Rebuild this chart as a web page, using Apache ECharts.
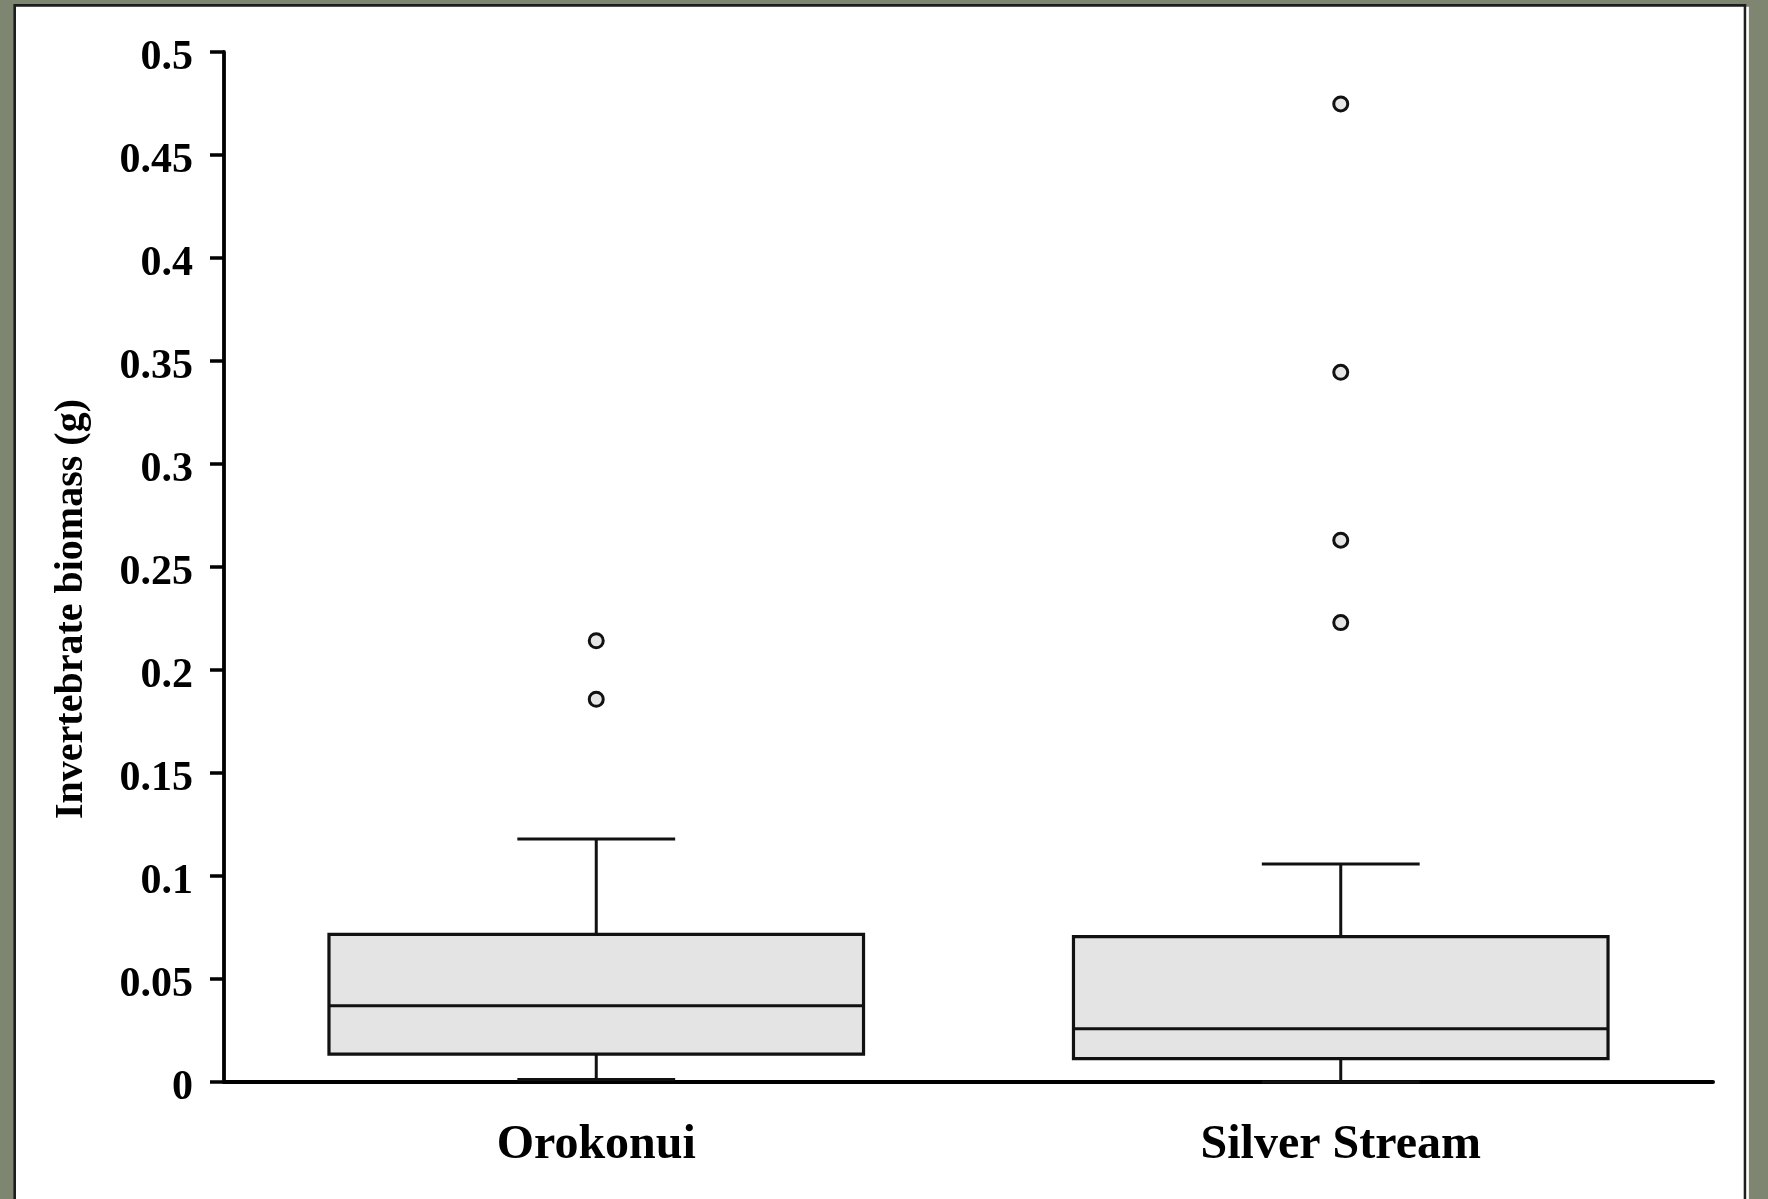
<!DOCTYPE html>
<html>
<head>
<meta charset="utf-8">
<title>Invertebrate biomass</title>
<script src="https://cdn.jsdelivr.net/npm/echarts@6/dist/echarts.min.js"></script>
<style>
  html, body { margin: 0; padding: 0; background: #7e8570; }
  #chart { width: 1768px; height: 1199px; }
</style>
</head>
<body>
<div id="chart"></div>
<script>
// Sites on the category axis
const sites = ['Orokonui', 'Silver Stream'];
// Box-and-whisker summary per site (g)
const whiskerLow = [0.0012, 0];
const quartile1 = [0.0135, 0.0113];
const median = [0.0370, 0.0258];
const quartile3 = [0.0717, 0.0706];
const whiskerHigh = [0.1180, 0.1058];
// Outlying samples per site (g)
const outliersOrokonui = [0.2142, 0.1858];
const outliersSilverStream = [0.4748, 0.3445, 0.2630, 0.2230];
// Value axis ticks
const yMin = 0;
const yMax = 0.5;
const yStep = 0.05;

const serif = '"Liberation Serif", "Times New Roman", serif';

const boxData = sites.map((s, i) => [i, whiskerLow[i], quartile1[i], median[i], quartile3[i], whiskerHigh[i]]);
const outlierData = [
  ...outliersOrokonui.map(v => [0, v]),
  ...outliersSilverStream.map(v => [1, v])
];

function renderBox(params, api) {
  const i = api.value(0);
  const band = api.size([1, 0])[0];
  const cx = api.coord([i, 0])[0];
  const boxW = band * 0.718;
  const capW = band * 0.212;
  const yLo = api.coord([i, api.value(1)])[1];
  const yQ1 = api.coord([i, api.value(2)])[1];
  const yMed = api.coord([i, api.value(3)])[1];
  const yQ3 = api.coord([i, api.value(4)])[1];
  const yHi = api.coord([i, api.value(5)])[1];
  const line = { stroke: '#111', lineWidth: 3, fill: null };
  return {
    type: 'group',
    children: [
      { type: 'line', shape: { x1: cx, y1: yHi, x2: cx, y2: yQ3 }, style: line },
      { type: 'line', shape: { x1: cx, y1: yQ1, x2: cx, y2: yLo }, style: line },
      { type: 'line', shape: { x1: cx - capW / 2, y1: yHi, x2: cx + capW / 2, y2: yHi }, style: line },
      { type: 'line', shape: { x1: cx - capW / 2, y1: yLo, x2: cx + capW / 2, y2: yLo }, style: line },
      { type: 'rect', shape: { x: cx - boxW / 2, y: yQ3, width: boxW, height: yQ1 - yQ3 },
        style: { fill: '#e4e4e4', stroke: '#111', lineWidth: 3.2 } },
      { type: 'line', shape: { x1: cx - boxW / 2, y1: yMed, x2: cx + boxW / 2, y2: yMed }, style: line }
    ]
  };
}

const chart = echarts.init(document.getElementById('chart'), null, { renderer: 'canvas' });
chart.setOption({
  backgroundColor: '#7e8570',
  animation: false,
  graphic: [
    { type: 'rect', z: -10, shape: { x: 14.7, y: 5.4, width: 1730.3, height: 1260 },
      style: { fill: '#ffffff', stroke: '#1e1e1e', lineWidth: 2.6 } },
    { type: 'rect', z: -10, shape: { x: 1746.3, y: 6.7, width: 2.6, height: 1260 },
      style: { fill: '#ffffff' } }
  ],
  grid: { left: 224, right: 55, top: 52, bottom: 117, containLabel: false },
  xAxis: {
    type: 'category',
    data: sites,
    boundaryGap: true,
    axisLine: { lineStyle: { color: '#000', width: 4 } },
    axisTick: { show: false },
    axisLabel: { color: '#000', fontFamily: serif, fontWeight: 'bold', fontSize: 48, margin: 40 },
    splitLine: { show: false }
  },
  yAxis: {
    type: 'value',
    min: yMin,
    max: yMax,
    interval: yStep,
    name: 'Invertebrate biomass (g)',
    nameLocation: 'middle',
    nameGap: 132,
    nameTextStyle: { color: '#000', fontFamily: serif, fontWeight: 'bold', fontSize: 40, padding: [0, 84, 0, 0] },
    axisLine: { show: true, lineStyle: { color: '#000', width: 3.8 } },
    axisTick: { show: true, length: 14, lineStyle: { color: '#000', width: 3.5 } },
    axisLabel: {
      margin: 31,
      formatter: '{t|{value}}',
      rich: {
        t: { color: '#000', fontFamily: serif, fontWeight: 'bold', fontSize: 42, padding: [12, 0, 0, 0] }
      }
    },
    splitLine: { show: false }
  },
  series: [
    {
      type: 'custom',
      renderItem: renderBox,
      data: boxData,
      encode: { x: 0, y: [1, 2, 3, 4, 5] },
      z: 2
    },
    {
      type: 'scatter',
      data: outlierData,
      symbol: 'circle',
      symbolSize: 14,
      itemStyle: { color: '#e6e6e6', borderColor: '#111', borderWidth: 3, opacity: 1 },
      z: 3
    }
  ]
});
</script>
</body>
</html>
